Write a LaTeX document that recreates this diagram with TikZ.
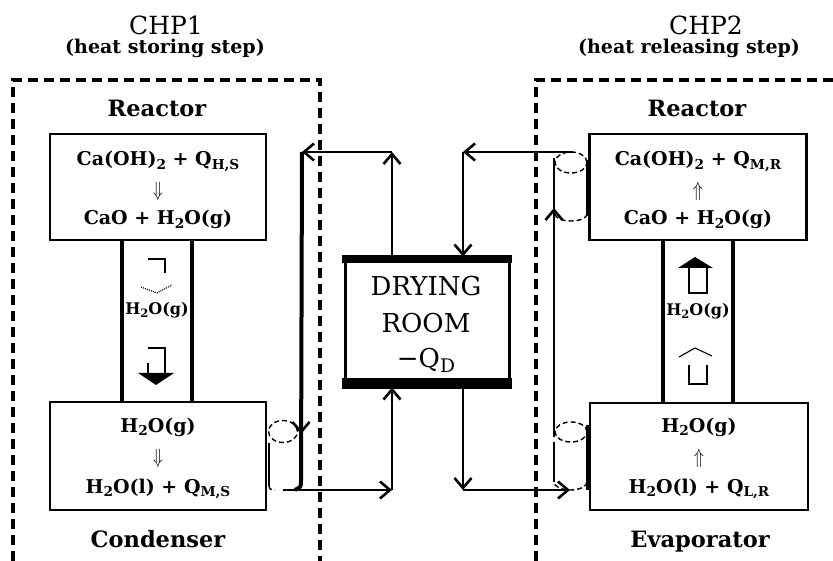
\documentclass[tikz,border=0pt]{standalone}
\usepackage{fontspec}
\usepackage{graphicx}
\setmainfont{DejaVu Serif}
\usetikzlibrary{arrows.meta}
\newcommand\sbs[1]{\raisebox{-0.18em}{\scalebox{0.72}{#1}}}
\newcommand\dnar{\scalebox{0.8}[1]{\fontsize{21}{22}\selectfont$\Downarrow$}}
\newcommand\upar{\scalebox{0.8}[1]{\fontsize{21}{22}\selectfont$\Uparrow$}}
\begin{document}
\begin{tikzpicture}[x=1pt,y=-1pt,
  dbox/.style={line width=3.2pt, dash pattern=on 10pt off 6pt},
  rbox/.style={draw, line width=2.6pt, inner sep=0pt},
  tube/.style={line width=4.8pt},
  pipe/.style={line width=2.6pt},
  tip/.style={-{Straight Barb[length=10pt,width=17pt]}},
  cyl/.style={line width=1.4pt, dash pattern=on 5pt off 3pt},
  ttl/.style={anchor=base, inner sep=0pt, font=\fontsize{25}{28}\selectfont},
  sub/.style={anchor=base, inner sep=0pt, font=\fontsize{19}{22}\selectfont\bfseries},
  lbl/.style={anchor=base, inner sep=0pt, font=\fontsize{22.5}{26}\selectfont\bfseries},
  txt/.style={anchor=base, inner sep=0pt, font=\fontsize{19}{22}\selectfont\bfseries},
  arr/.style={inner sep=0pt, font=\fontsize{19}{22}\selectfont},
  tub/.style={anchor=base, inner sep=0pt, font=\fontsize{16}{18}\selectfont\bfseries},
  drt/.style={anchor=base, inner sep=0pt, font=\fontsize{26}{29}\selectfont},
]
\useasboundingbox (0,0) rectangle (833,561);
\fill[white] (0,0) rectangle (833,561);

% dashed group frames
\draw[dbox] (13,561) -- (13,80) -- (320,80) -- (320,561);
\draw[dbox] (536,561) -- (536,80) -- (833,80);

% titles
\node[ttl] (t1) at (166,35) {CHP1};
\node[sub] (s1) at (165,54) {(heat storing step)};
\node[ttl] (t2) at (706,35) {CHP2};
\node[sub] (s2) at (689,54) {(heat releasing step)};

% labels
\node[lbl] (lr1) at (157,117) {Reactor};
\node[lbl] (lr2) at (697,117) {Reactor};
\node[lbl] (lc1) at (158,547) {Condenser};
\node[lbl] (le2) at (700,547) {Evaporator};

% boxes
\node[rbox, minimum width=216pt, minimum height=106pt] (r1) at (158,187) {};
\node[rbox, minimum width=216pt, minimum height=108pt] (c1) at (158,456) {};
\node[rbox, minimum width=217pt, minimum height=106pt] (r2) at (698,187) {};
\node[rbox, minimum width=218pt, minimum height=107pt] (e2) at (699,456.5) {};

% box texts
\node[txt] (r1a) at (158,166) {Ca(OH)\sbs{2} + Q\sbs{H,S}};
\node[arr] (r1b) at (158,191) {\dnar};
\node[txt] (r1c) at (158,225) {CaO + H\sbs{2}O(g)};
\node[txt] (c1a) at (158,432) {H\sbs{2}O(g)};
\node[arr] (c1b) at (158,458) {\dnar};
\node[txt] (c1c) at (158,493) {H\sbs{2}O(l) + Q\sbs{M,S}};
\node[txt] (r2a) at (698,166) {Ca(OH)\sbs{2} + Q\sbs{M,R}};
\node[arr] (r2b) at (698,191) {\upar};
\node[txt] (r2c) at (698,225) {CaO + H\sbs{2}O(g)};
\node[txt] (e2a) at (699,432) {H\sbs{2}O(g)};
\node[arr] (e2b) at (699,458) {\upar};
\node[txt] (e2c) at (699,493) {H\sbs{2}O(l) + Q\sbs{L,R}};

% tubes
\draw[tube] ([xshift=-36pt]r1.south) -- ([xshift=-36pt]c1.north);
\draw[tube] ([xshift=34pt]r1.south) -- ([xshift=34pt]c1.north);
\draw[tube] ([xshift=-35pt]r2.south) -- ([xshift=-36pt]e2.north);
\draw[tube] ([xshift=35pt]r2.south) -- ([xshift=34pt]e2.north);

\node[tub] (h1) at (157,315) {H\sbs{2}O(g)};
\node[tub] (h2) at (698,316) {H\sbs{2}O(g)};

% left tube arrows (downward)
\draw[line width=1.1pt] (148,259) -- (165,259) -- (165,273);
\draw[line width=1.1pt, densely dotted] (141,287) -- (157,293) -- (172,285);
\draw[line width=1.4pt] (148,348) -- (165,348) -- (165,373);
\draw[line width=1.4pt] (148,363) -- (148,373);
\fill (138,373) -- (174,373) -- (156,385) -- cycle;

% right tube arrows (upward)
\fill (678,268) -- (713,268) -- (695,257) -- cycle;
\draw[line width=1.4pt] (689,268) -- (689,293) -- (707,293) -- (707,268);
\draw[line width=1.1pt] (679,357) -- (695,348) -- (712,356);
\draw[line width=1.4pt] (689,365) -- (689,384) -- (707,384) -- (707,365);

% drying room
\node[draw, line width=3pt, minimum width=164pt, minimum height=128pt, inner sep=0pt] (dr) at (427,322) {};
\fill ([shift={(-1.5pt,1.5pt)}]dr.north west) rectangle ([shift={(1.5pt,-7pt)}]dr.north east);
\fill ([shift={(-1.5pt,9pt)}]dr.south west) rectangle ([shift={(1.5pt,-1.5pt)}]dr.south east);
\node[drt] (d1) at (426,296) {DRYING};
\node[drt] (d2) at (426,333) {ROOM};
\node[drt] (d3) at (426,368) {−Q\sbs{D}};

% left loop (CHP1 condenser <-> drying room)
\coordinate (a1) at (392,152);
\coordinate (a2) at (302,152);
\coordinate (a3) at (392,490);
\coordinate (a4) at (283,490);
\draw[pipe,tip] ([xshift=-35pt]dr.north) -- (a1);
\draw[pipe,tip] (a1) -- (a2);
\draw[line width=4pt] (a2) -- (301,480) .. controls (301,487) .. (295,490);
\draw[pipe,tip] (301,400) -- (301,434);
\draw[pipe,tip] (a4) -- (a3);
\draw[pipe,tip] (a3) -- ([xshift=-35pt]dr.south);
% condenser heat exchanger
\draw[cyl] (283,431.5) ellipse [x radius=14.5pt, y radius=11pt];
\draw[line width=1.4pt] (269,443) -- (269,486);
\draw[cyl] (269,486) .. controls (269,489) .. (275,490);

% right loop (CHP2 evaporator/reactor <-> drying room)
\coordinate (b1) at (463,152);
\coordinate (b2) at (573,152);
\coordinate (b3) at (463,490);
\coordinate (b4) at (570,490);
\coordinate (b5) at (554,208);
\draw[pipe,tip] (b2) -- (b1);
\draw[pipe,tip] (b1) -- ([xshift=36pt]dr.north);
\draw[pipe,tip] ([xshift=36pt]dr.south) -- (b3);
\draw[pipe,tip] (b3) -- (b4);
\draw[pipe] (554,437) -- (554,158);
\draw[pipe,tip] (554,260) -- (b5);
% reactor heat exchanger
\draw[cyl] (571,162.5) ellipse [x radius=16pt, y radius=10.5pt];
\draw[line width=2.8pt] (587,160) -- (587,216);
\draw[cyl] (587,214) arc[start angle=0, end angle=-180, x radius=16pt, y radius=7pt];
% evaporator heat exchanger
\draw[cyl] (571,432) ellipse [x radius=16pt, y radius=10pt];
\draw[line width=1.4pt] (554,442) -- (554,482);
\draw[line width=3pt] (587,425) -- (587,490);
\draw[cyl] (587,482) arc[start angle=0, end angle=-180, x radius=16.5pt, y radius=8pt];
\end{tikzpicture}
\end{document}
